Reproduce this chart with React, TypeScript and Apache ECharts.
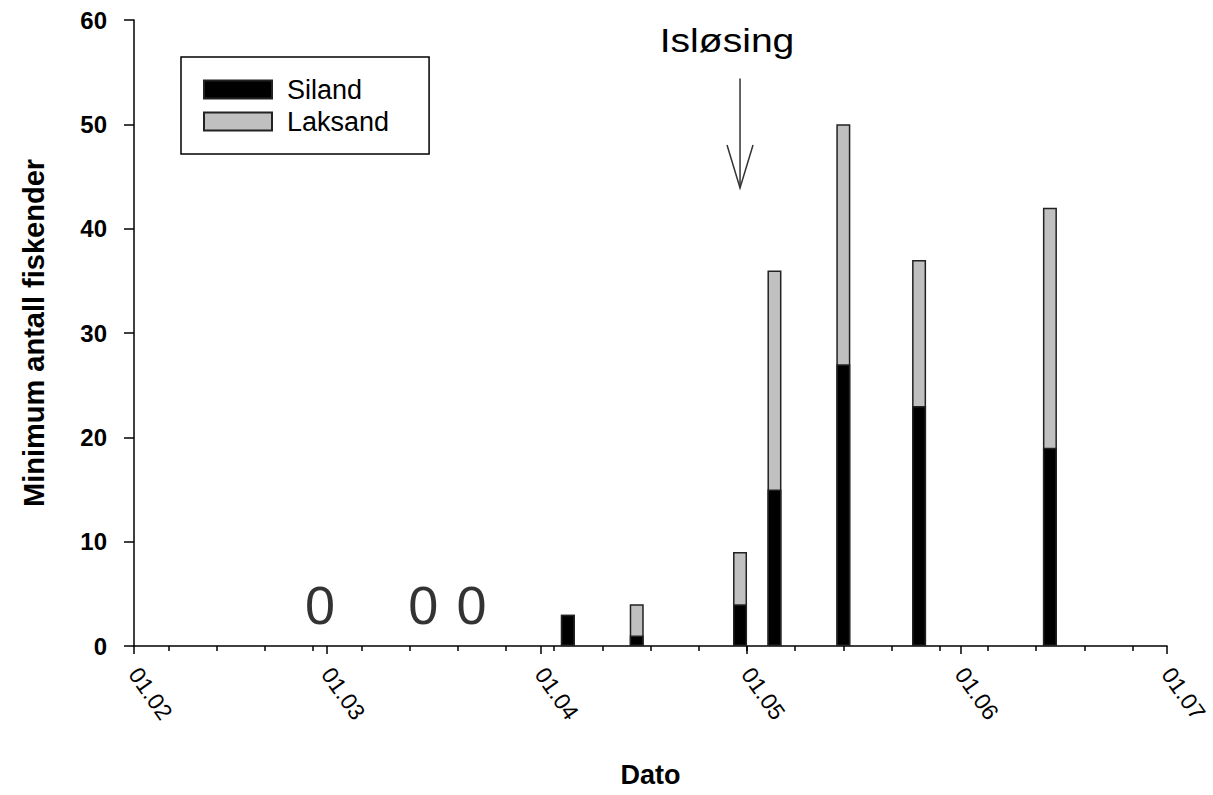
import React, { useEffect, useRef } from 'react';
import * as echarts from 'echarts';

const seriesNames = ['Siland', 'Laksand'];
const sampleDates = ['2011-04-05', '2011-04-15', '2011-04-30', '2011-05-05', '2011-05-15', '2011-05-26', '2011-06-14'];
const silandValues = [3, 1, 4, 15, 27, 23, 19];
const laksandValues = [0, 3, 5, 21, 23, 14, 23];
const zeroDates = ['2011-02-28', '2011-03-15', '2011-03-22'];
const zeroLabel = '0';
const monthTickDates = ['2011-02-01', '2011-03-01', '2011-04-01', '2011-05-01', '2011-06-01', '2011-07-01'];
const monthTickLabels = ['01.02', '01.03', '01.04', '01.05', '01.06', '01.07'];
const weekTickDates = [
  '2011-02-06', '2011-02-13', '2011-02-20', '2011-02-27',
  '2011-03-06', '2011-03-13', '2011-03-20', '2011-03-27',
  '2011-04-03', '2011-04-10', '2011-04-17', '2011-04-24',
  '2011-05-01', '2011-05-08', '2011-05-15', '2011-05-22', '2011-05-29',
  '2011-06-05', '2011-06-12', '2011-06-19', '2011-06-26',
];
const yMin = 0;
const yMax = 60;
const yInterval = 10;
const xTitle = 'Dato';
const yTitle = 'Minimum antall fiskender';
const arrowLabel = 'Isløsing';
const arrowDate = '2011-04-30';
const arrowTopValue = 54.4;
const arrowTipValue = 43.9;
const arrowTextValue = 58.0;

const originDate = '2011-02-01';
const dayOf = (s: string) => {
  const [y, m, d] = s.split('-').map(Number);
  const [oy, om, od] = originDate.split('-').map(Number);
  return Math.round((Date.UTC(y, m - 1, d) - Date.UTC(oy, om - 1, od)) / 86400000);
};

const FONT = '"Liberation Sans", Arial, Helvetica, sans-serif';

export default function App() {
  const ref = useRef<HTMLDivElement>(null);
  useEffect(() => {
    if (!ref.current) return;
    const chart = echarts.init(ref.current, undefined, { renderer: 'svg' });
    const monthDays = monthTickDates.map(dayOf);
    const weekDays = weekTickDates.map(dayOf);
    const sampleDays = sampleDates.map(dayOf);
    const zeroDays = zeroDates.map(dayOf);
    const labelMap: Record<number, string> = {};
    monthDays.forEach((d, i) => (labelMap[d] = monthTickLabels[i]));
    const xMin = monthDays[0];
    const xMax = monthDays[monthDays.length - 1];
    const axisLineStyle = { color: '#000', width: 1.5 };
    // stacked tops: Laksand sits on top of Siland
    const stackedTotals = silandValues.map((v, i) => v + laksandValues[i]);

    chart.setOption({
      animation: false,
      backgroundColor: '#fff',
      textStyle: { fontFamily: FONT },
      grid: { left: 134, right: 46, top: 20, bottom: 149, containLabel: false, outerBoundsMode: 'none' },
      legend: {
        data: seriesNames,
        orient: 'vertical',
        left: 181,
        top: 57,
        padding: [19, 40, 19, 22],
        itemGap: 5,
        itemWidth: 68,
        itemHeight: 18,
        borderColor: '#000',
        borderWidth: 1.5,
        icon: 'rect',
        textStyle: { fontSize: 27, color: '#000', fontFamily: FONT, lineHeight: 26, padding: [0, 0, 0, 10] },
      },
      xAxis: [
        {
          type: 'value',
          min: xMin,
          max: xMax,
          position: 'bottom',
          splitLine: { show: false },
          axisLine: { show: true, onZero: false, lineStyle: axisLineStyle },
          axisTick: { show: true, customValues: monthDays, length: 8, lineStyle: axisLineStyle },
          axisLabel: {
            customValues: monthDays,
            formatter: (v: number) => labelMap[v] ?? '',
            rotate: -55,
            fontSize: 23,
            color: '#000',
            margin: 24,
            showMinLabel: true,
            showMaxLabel: true,
            fontFamily: FONT,
          },
          name: xTitle,
          nameLocation: 'middle',
          nameGap: 115,
          nameTextStyle: { fontSize: 27, fontWeight: 'bold', color: '#000', fontFamily: FONT },
        },
        {
          type: 'value',
          min: xMin,
          max: xMax,
          position: 'bottom',
          gridIndex: 0,
          splitLine: { show: false },
          axisLine: { show: false },
          axisTick: { show: true, customValues: weekDays, length: 5, lineStyle: axisLineStyle },
          axisLabel: { show: false },
        },
      ],
      yAxis: {
        type: 'value',
        min: yMin,
        max: yMax,
        interval: yInterval,
        splitLine: { show: false },
        axisLine: { show: true, onZero: false, lineStyle: axisLineStyle },
        axisTick: { show: true, length: 10, lineStyle: axisLineStyle },
        axisLabel: { fontSize: 24, fontWeight: 'bold', color: '#000', margin: 27, fontFamily: FONT },
        name: yTitle,
        nameLocation: 'middle',
        nameGap: 86,
        nameTextStyle: { fontSize: 29, fontWeight: 'bold', color: '#000', fontFamily: FONT },
      },
      series: [
        {
          name: seriesNames[1],
          type: 'bar',
          barWidth: 14,
          barGap: '-100%',
          data: sampleDays.map((d, i) => [d, stackedTotals[i]]),
          itemStyle: { color: '#c0c0c0', borderColor: '#222', borderWidth: 1.5 },
        },
        {
          name: seriesNames[0],
          type: 'bar',
          barWidth: 14,
          barGap: '-100%',
          data: sampleDays.map((d, i) => [d, silandValues[i]]),
          itemStyle: { color: '#000', borderColor: '#222', borderWidth: 1.5 },
        },
        {
          name: 'zero',
          type: 'scatter',
          silent: true,
          symbolSize: 1,
          itemStyle: { color: 'transparent' },
          data: zeroDays.map((d) => [d, 0]),
          label: {
            show: true,
            formatter: () => zeroLabel,
            position: 'inside',
            offset: [0, -41],
            fontSize: 54,
            color: '#000',
            fontFamily: FONT,
          },
        },
      ],
    });

    const aDay = dayOf(arrowDate);
    const [ax, yTop] = chart.convertToPixel({ xAxisIndex: 0, yAxisIndex: 0 }, [aDay, arrowTopValue]) as number[];
    const [, yTip] = chart.convertToPixel({ xAxisIndex: 0, yAxisIndex: 0 }, [aDay, arrowTipValue]) as number[];
    const [, yText] = chart.convertToPixel({ xAxisIndex: 0, yAxisIndex: 0 }, [aDay, arrowTextValue]) as number[];
    chart.setOption({
      graphic: [
        { type: 'line', shape: { x1: ax, y1: yTop, x2: ax, y2: yTip }, style: { stroke: '#333', lineWidth: 1.5 } },
        {
          type: 'polyline',
          shape: { points: [[ax - 13, yTip - 43], [ax, yTip], [ax + 13, yTip - 43]] },
          style: { stroke: '#333', lineWidth: 1.5, fill: 'none' },
        },
        {
          type: 'text',
          x: ax - 13,
          y: yText,
          scaleX: 1.15,
          style: { text: arrowLabel, fontSize: 34, fill: '#000', fontFamily: FONT, align: 'center', verticalAlign: 'middle' },
        },
      ],
    });

    return () => chart.dispose();
  }, []);
  return (
    <div
      ref={ref}
      style={{ position: 'fixed', left: 0, top: 0, width: 1213, height: 795, background: '#fff' }}
    />
  );
}
